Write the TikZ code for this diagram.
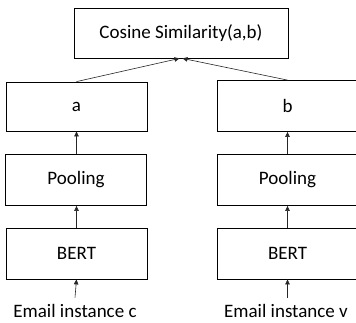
\documentclass[tikz,border=0pt]{standalone}
\usepackage{fontspec}
\setmainfont{Carlito}
\usetikzlibrary{arrows.meta}
\begin{document}
\begin{tikzpicture}[x=1pt,y=-1pt,
  box/.style={draw=black,line width=0.8pt,minimum width=141pt,minimum height=51pt,inner sep=0pt,font=\fontsize{19}{23}\selectfont},
  lbl/.style={inner sep=0pt,font=\fontsize{19}{23}\selectfont,anchor=base},
  arr/.style={draw=black!85,line width=0.6pt,-{Triangle[length=5pt,width=4.5pt]}}]
\useasboundingbox (0,0) rectangle (356,322);
\node[box,minimum width=214pt,minimum height=50pt] (top) at (181,33) {Cosine Similarity(a,b)};
\node[box,minimum height=49pt] (a) at (76.5,106.5) {a};
\node[box] (b) at (287.5,106) {b};
\node[box] (poolA) at (76,180) {Pooling};
\node[box] (poolB) at (287.5,180) {Pooling};
\node[box] (bertA) at (76.5,253.5) {BERT};
\node[box] (bertB) at (287.5,253.5) {BERT};
\node[lbl] (textA) at (75,317) {Email instance c};
\node[lbl] (textB) at (286,317) {Email instance v};
\draw[arr] ([yshift=6pt]textA.north) -- (bertA.south);
\draw[arr] ([yshift=6pt]textB.north -| bertB.south) -- (bertB.south);
\draw[arr] (bertA.north) -- (poolA.south -| bertA.north);
\draw[arr] (bertB.north) -- (poolB.south);
\draw[arr] (poolA.north -| a.south) -- (a.south);
\draw[arr] (poolB.north) -- (b.south);
\draw[arr] (a.north) -- ([xshift=-1.5pt]top.south);
\draw[arr] (b.north) -- ([xshift=1.5pt]top.south);
\end{tikzpicture}
\end{document}
